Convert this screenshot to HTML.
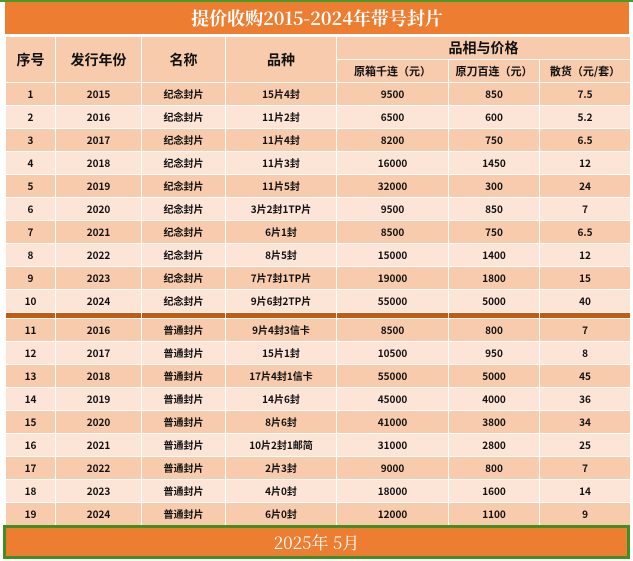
<!DOCTYPE html>
<html><head><meta charset="utf-8"><style>
body{margin:0;width:633px;height:561px;background:#fff;position:relative;overflow:hidden;font-family:"Noto Sans CJK SC",sans-serif;}
.topline{position:absolute;left:0;top:0;width:633px;height:2px;background:#4a9a2a;}
.title{position:absolute;left:5px;top:2px;width:624px;height:32px;background:#ED7D31;color:#fff;font-family:"Noto Serif CJK SC",serif;font-weight:bold;font-size:18px;line-height:32px;text-align:center;}
table{position:absolute;left:5px;top:36px;border-collapse:collapse;table-layout:fixed;width:625px;}
td{border:1px solid #fff;text-align:center;vertical-align:middle;font-weight:bold;font-size:10px;line-height:12px;height:22px;padding:0;color:#111;font-family:"Noto Sans CJK SC",sans-serif;}
.h td{background:#F8CBAD;font-size:14px;line-height:16px;}
.h2 td{font-size:11px;line-height:13px;}
.d td{background:#F8CBAD;}
.l td{background:#FCE4D6;}
.band td{background:#C55A11;height:5px;line-height:5px;}
.foot{position:absolute;left:3px;top:525px;width:621px;height:28px;border:3px solid #3f8f22;background:#ED7D31;color:#fff;font-family:"Noto Serif CJK SC",serif;font-size:17px;line-height:28px;text-align:center;}
</style></head><body>
<div class="topline"></div>
<div class="title">提价收购2015-2024年带号封片</div>
<table>
<colgroup><col style="width:50px"><col style="width:86px"><col style="width:84px"><col style="width:111px"><col style="width:112px"><col style="width:91px"><col style="width:91px"></colgroup>
<tr class="h"><td rowspan="2">序号</td><td rowspan="2">发行年份</td><td rowspan="2">名称</td><td rowspan="2">品种</td><td colspan="3">品相与价格</td></tr>
<tr class="h h2"><td>原箱千连（元）</td><td>原刀百连（元）</td><td>散货（元/套）</td></tr>
<tr class="d"><td>1</td><td>2015</td><td>纪念封片</td><td>15片4封</td><td>9500</td><td>850</td><td>7.5</td></tr>
<tr class="l"><td>2</td><td>2016</td><td>纪念封片</td><td>11片2封</td><td>6500</td><td>600</td><td>5.2</td></tr>
<tr class="d"><td>3</td><td>2017</td><td>纪念封片</td><td>11片4封</td><td>8200</td><td>750</td><td>6.5</td></tr>
<tr class="l"><td>4</td><td>2018</td><td>纪念封片</td><td>11片3封</td><td>16000</td><td>1450</td><td>12</td></tr>
<tr class="d"><td>5</td><td>2019</td><td>纪念封片</td><td>11片5封</td><td>32000</td><td>300</td><td>24</td></tr>
<tr class="l"><td>6</td><td>2020</td><td>纪念封片</td><td>3片2封1TP片</td><td>9500</td><td>850</td><td>7</td></tr>
<tr class="d"><td>7</td><td>2021</td><td>纪念封片</td><td>6片1封</td><td>8500</td><td>750</td><td>6.5</td></tr>
<tr class="l"><td>8</td><td>2022</td><td>纪念封片</td><td>8片5封</td><td>15000</td><td>1400</td><td>12</td></tr>
<tr class="d"><td>9</td><td>2023</td><td>纪念封片</td><td>7片7封1TP片</td><td>19000</td><td>1800</td><td>15</td></tr>
<tr class="l"><td>10</td><td>2024</td><td>纪念封片</td><td>9片6封2TP片</td><td>55000</td><td>5000</td><td>40</td></tr>
<tr class="band"><td></td><td></td><td></td><td></td><td></td><td></td><td></td></tr>
<tr class="d"><td>11</td><td>2016</td><td>普通封片</td><td>9片4封3信卡</td><td>8500</td><td>800</td><td>7</td></tr>
<tr class="l"><td>12</td><td>2017</td><td>普通封片</td><td>15片1封</td><td>10500</td><td>950</td><td>8</td></tr>
<tr class="d"><td>13</td><td>2018</td><td>普通封片</td><td>17片4封1信卡</td><td>55000</td><td>5000</td><td>45</td></tr>
<tr class="l"><td>14</td><td>2019</td><td>普通封片</td><td>14片6封</td><td>45000</td><td>4000</td><td>36</td></tr>
<tr class="d"><td>15</td><td>2020</td><td>普通封片</td><td>8片6封</td><td>41000</td><td>3800</td><td>34</td></tr>
<tr class="l"><td>16</td><td>2021</td><td>普通封片</td><td>10片2封1邮简</td><td>31000</td><td>2800</td><td>25</td></tr>
<tr class="d"><td>17</td><td>2022</td><td>普通封片</td><td>2片3封</td><td>9000</td><td>800</td><td>7</td></tr>
<tr class="l"><td>18</td><td>2023</td><td>普通封片</td><td>4片0封</td><td>18000</td><td>1600</td><td>14</td></tr>
<tr class="d"><td>19</td><td>2024</td><td>普通封片</td><td>6片0封</td><td>12000</td><td>1100</td><td>9</td></tr>
</table>
<div class="foot">2025年 5月</div>
</body></html>
